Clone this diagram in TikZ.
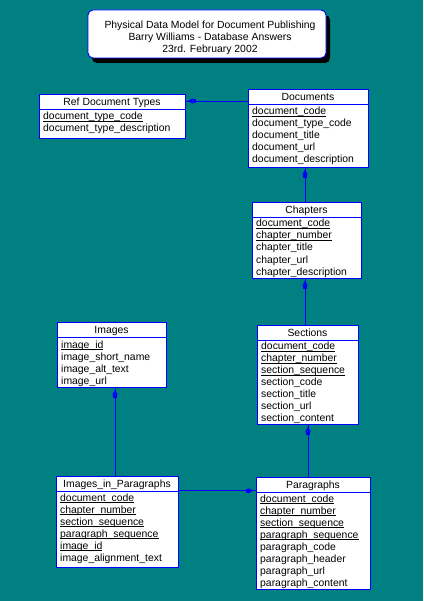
\documentclass[tikz,border=0pt]{standalone}
\usepackage{fontspec}
\setmainfont{Liberation Sans}
\usetikzlibrary{arrows.meta,calc,decorations.markings,shadows}
\definecolor{bgteal}{HTML}{008080}
\newcommand\keyu[1]{\setbox0\hbox{#1}\rlap{\rule[-2.2pt]{\wd0}{0.8pt}}\box0}
\begin{document}
\begin{tikzpicture}[x=1pt,y=-1pt,font=\fontsize{10.4}{12}\selectfont,
  ent/.style={draw=blue, fill=white, line width=0.9pt, inner sep=0pt, outer sep=0pt, anchor=north west},
  titlebox/.style={draw=blue, fill=white, line width=0.9pt, inner sep=0pt, outer sep=0pt, anchor=north west,
    rounded corners=5pt, drop shadow={shadow xshift=4pt, shadow yshift=-5pt, fill=black, opacity=1}},
  hdr/.style={anchor=base, inner sep=0pt},
  fld/.style={anchor=base west, inner sep=0pt},
  sepline/.style={draw=blue, line width=0.9pt},
  fk/.style={draw=blue, line width=0.9pt, postaction={decorate},
    decoration={markings, mark=at position -2.5pt with {\arrow{Rectangle[length=3pt,width=4pt] Latex[length=5pt,width=6pt]}}}}
]
\useasboundingbox (0,0) rectangle (423,601);
\fill[bgteal] (0,0) rectangle (423,601);

% Title
\node[titlebox, minimum width=238pt, minimum height=48pt] (title) at (88,10) {};
\node[hdr] (t1) at (210,29) {Physical Data Model for Document Publishing};
\node[hdr] (t2) at (210,41) {Barry Williams - Database Answers};
\node[hdr] (t3) at (210,53) {23rd. February 2002};

% Ref Document Types
\node[ent, minimum width=146pt, minimum height=44pt] (ref) at (39,94) {};
\draw[sepline] ($(ref.north west)+(0,15)$) -- ($(ref.north east)+(0,15)$);
\node[hdr] (ref-h) at (112,105.7) {Ref Document Types};
\node[fld] (ref-1) at (43,119.5) {\keyu{document\_type\_code}};
\node[fld] (ref-2) at (43,131.5) {document\_type\_description};

% Documents
\node[ent, minimum width=120pt, minimum height=78pt] (docs) at (248,89) {};
\draw[sepline] ($(docs.north west)+(0,15)$) -- ($(docs.north east)+(0,15)$);
\node[hdr] (docs-h) at (308,100.7) {Documents};
\node[fld] (docs-1) at (252,114.5) {\keyu{document\_code}};
\node[fld] (docs-2) at (252,126.5) {document\_type\_code};
\node[fld] (docs-3) at (252,138.5) {document\_title};
\node[fld] (docs-4) at (252,150.5) {document\_url};
\node[fld] (docs-5) at (252,162.5) {document\_description};

% Chapters
\node[ent, minimum width=109pt, minimum height=76pt] (chap) at (252,202) {};
\draw[sepline] ($(chap.north west)+(0,15)$) -- ($(chap.north east)+(0,15)$);
\node[hdr] (chap-h) at (306.5,213.7) {Chapters};
\node[fld] (chap-1) at (256,227) {\keyu{document\_code}};
\node[fld] (chap-2) at (256,239) {\keyu{chapter\_number}};
\node[fld] (chap-3) at (256,251) {chapter\_title};
\node[fld] (chap-4) at (256,263) {chapter\_url};
\node[fld] (chap-5) at (256,275) {chapter\_description};

% Images
\node[ent, minimum width=109pt, minimum height=65pt] (img) at (57,322) {};
\draw[sepline] ($(img.north west)+(0,15.5)$) -- ($(img.north east)+(0,15.5)$);
\node[hdr] (img-h) at (111.5,333.7) {Images};
\node[fld] (img-1) at (61,348) {\keyu{image\_id}};
\node[fld] (img-2) at (61,360) {image\_short\_name};
\node[fld] (img-3) at (61,372) {image\_alt\_text};
\node[fld] (img-4) at (61,384) {image\_url};

% Sections
\node[ent, minimum width=101pt, minimum height=99pt] (sec) at (257,325) {};
\draw[sepline] ($(sec.north west)+(0,15)$) -- ($(sec.north east)+(0,15)$);
\node[hdr] (sec-h) at (307.5,336.7) {Sections};
\node[fld] (sec-1) at (261,349.5) {\keyu{document\_code}};
\node[fld] (sec-2) at (261,361.5) {\keyu{chapter\_number}};
\node[fld] (sec-3) at (261,373.5) {\keyu{section\_sequence}};
\node[fld] (sec-4) at (261,385.5) {section\_code};
\node[fld] (sec-5) at (261,397.5) {section\_title};
\node[fld] (sec-6) at (261,409.5) {section\_url};
\node[fld] (sec-7) at (261,421.5) {section\_content};

% Images_in_Paragraphs
\node[ent, minimum width=122pt, minimum height=91pt] (iip) at (56,476) {};
\draw[sepline] ($(iip.north west)+(0,15)$) -- ($(iip.north east)+(0,15)$);
\node[hdr] (iip-h) at (117,487.7) {Images\_in\_Paragraphs};
\node[fld] (iip-1) at (60,501) {\keyu{document\_code}};
\node[fld] (iip-2) at (60,513) {\keyu{chapter\_number}};
\node[fld] (iip-3) at (60,525) {\keyu{section\_sequence}};
\node[fld] (iip-4) at (60,537) {\keyu{paragraph\_sequence}};
\node[fld] (iip-5) at (60,549) {\keyu{image\_id}};
\node[fld] (iip-6) at (60,561) {image\_alignment\_text};

% Paragraphs
\node[ent, minimum width=114pt, minimum height=112pt] (para) at (256,477) {};
\draw[sepline] ($(para.north west)+(0,15)$) -- ($(para.north east)+(0,15)$);
\node[hdr] (para-h) at (313,488.7) {Paragraphs};
\node[fld] (para-1) at (260,502) {\keyu{document\_code}};
\node[fld] (para-2) at (260,514) {\keyu{chapter\_number}};
\node[fld] (para-3) at (260,526) {\keyu{section\_sequence}};
\node[fld] (para-4) at (260,538) {\keyu{paragraph\_sequence}};
\node[fld] (para-5) at (260,550) {paragraph\_code};
\node[fld] (para-6) at (260,562) {paragraph\_header};
\node[fld] (para-7) at (260,574) {paragraph\_url};
\node[fld] (para-8) at (260,586) {paragraph\_content};

% Connectors
\draw[fk] ($(docs.north west)+(0,12)$) -- ($(ref.north east)+(0,7)$);
\draw[fk] ($(chap.north west)+(53,0)$) -- ($(docs.south west)+(57,0)$);
\draw[fk] ($(sec.north west)+(48,0)$) -- ($(chap.south west)+(53,0)$);
\draw[fk] ($(para.north west)+(52,0)$) -- ($(sec.south west)+(51,0)$);
\draw[fk] ($(iip.north west)+(59,0)$) -- ($(img.south west)+(58,0)$);
\draw[fk] ($(iip.north east)+(0,14.7)$) -- ($(para.north west)+(0,13.7)$);
\end{tikzpicture}
\end{document}
